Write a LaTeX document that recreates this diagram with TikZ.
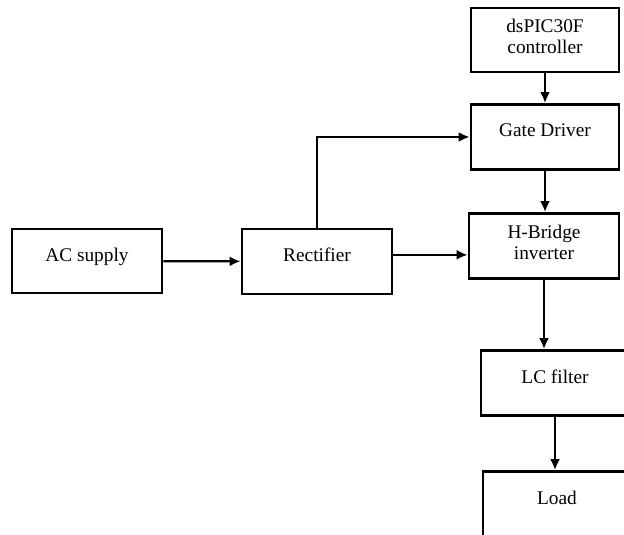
\documentclass[tikz,border=0pt]{standalone}
\usepackage{fontspec}
\setmainfont{Liberation Serif}
\usepackage{xcolor}
\definecolor{diaLine}{HTML}{000000}
\definecolor{diaFill}{HTML}{FFFFFF}
\usetikzlibrary{arrows.meta}
\tikzset{
    block/.style={
        draw=diaLine,
        fill=diaFill,
        rectangle,
        align=center,
        minimum width=44.4mm,
        minimum height=19.5mm,
        line width=2.4pt,
        text depth=11pt,
        font=\fontsize{16.5}{18}\selectfont
    },
    twoline/.style={
        text depth=6pt
    },
    arrow/.style={
        -{Latex[length=3.3mm,width=3mm]},
        line width=1.9pt,
        color=diaLine
    }
}

\begin{document}
\begin{tikzpicture}[x=0.3mm, y=-0.3mm]
    \clip (0,0) rectangle (624,534);
    \fill[white] (0,0) rectangle (624,534);

    % Inverter chain on the right
    \node[block, twoline, minimum height=19.2mm] (ctrl) at (545,40) {dsPIC30F\\controller};
    \node[block] (gate) at (545,137) {Gate Driver};
    \node[block, twoline, minimum width=45mm] (hbridge) at (544,246) {H-Bridge\\inverter};
    \node[block] (lcfilter) at (555,383) {LC filter};
    \node[block] (load) at (557,504) {Load};

    % Supply side
    \node[block, minimum width=45mm, minimum height=19.2mm] (ac) at (87,261) {AC supply};
    \node[block, minimum width=45mm] (rect) at (317,261.5) {Rectifier};

    % Connections
    \foreach \from/\to in {ctrl/gate, gate/hbridge, hbridge/lcfilter, lcfilter/load} {
        \draw[arrow] (\from.south) -- (\from.south |- \to.north);
    }
    \draw[arrow] (ac) -- (rect);
    \draw[arrow] ([yshift=2mm]rect.east) -- ([yshift=2mm]rect.east -| hbridge.west);
    \draw[arrow] (rect.north) |- (gate.west);
\end{tikzpicture}
\end{document}
